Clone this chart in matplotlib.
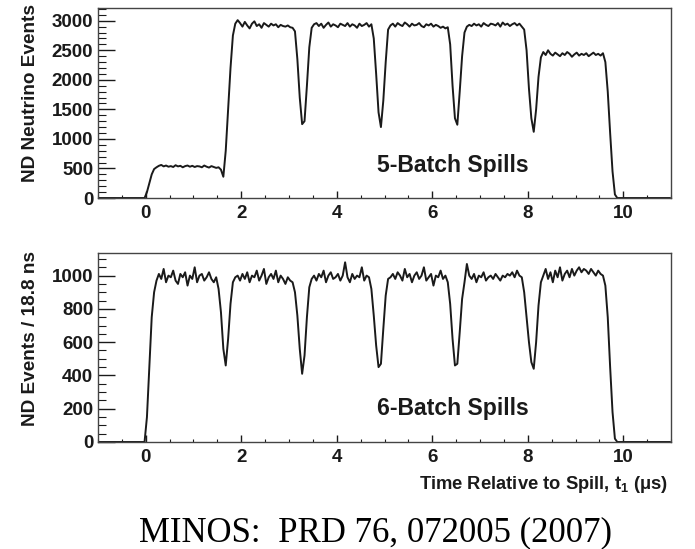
import numpy as np
import matplotlib
matplotlib.use("Agg")
import matplotlib.pyplot as plt
from matplotlib.ticker import MultipleLocator

# histogram contents, bins of 0.05 us starting at t1 = 0
bin_width = 0.05
t_start = 0.0

five_batch = [
    100, 250, 400, 490,
    520, 545, 560, 535, 550, 530, 540, 525, 555, 535, 545, 520, 540, 550,
    530, 545, 525, 540, 535, 520, 550, 530, 515, 540, 525, 510, 520,
    480, 360,
    800, 1500, 2200, 2750, 2950,
    3010, 2960, 2900, 2980, 2920, 2870, 2950, 2990, 2910, 2940, 2880, 2960,
    2930, 2900, 2950, 2920, 2940, 2890, 2930, 2910, 2900, 2920, 2890, 2880,
    2820, 2350, 1700, 1250, 1300, 1900, 2550, 2880,
    2940, 2960, 2910, 2950, 2880, 2930, 2970, 2900, 2940, 2920, 2890, 2950,
    2930, 2910, 2960, 2900, 2940, 2920, 2880, 2950, 2910, 2930, 2960, 2900, 2940,
    2700, 2100, 1450, 1200, 1650, 2300, 2850,
    2920, 2950, 2900, 2960, 2930, 2910, 2970, 2940, 2900, 2950, 2920, 2930,
    2960, 2910, 2890, 2940, 2920, 2950, 2900, 2930, 2910, 2880, 2900, 2870, 2890,
    2600, 1900, 1350, 1240, 1800, 2400, 2800, 2900,
    2930, 2910, 2950, 2920, 2940, 2900, 2960, 2930, 2910, 2950, 2940, 2920,
    2960, 2900, 2970, 2930, 2950, 2910, 2940, 2960, 2920, 2950, 2900,
    2850, 2500, 1850, 1350, 1120, 1500, 2050, 2380,
    2470, 2420, 2500, 2440, 2410, 2460, 2430, 2400, 2450, 2420, 2470, 2440, 2390,
    2430, 2460, 2410, 2440, 2420, 2450, 2400, 2430, 2460, 2420, 2440, 2410, 2450,
    2300, 1800, 1100, 450, 60,
    0, 0, 0,
]

six_batch = [
    150, 450, 750, 900, 970,
    1010, 980, 1040, 960, 1000, 990, 1030, 970, 950, 1010, 990, 1020, 940,
    1000, 980, 1050, 960, 1000, 1010, 970, 990, 1020, 980, 960, 990,
    920, 780, 560, 460, 620, 830, 960,
    990, 1000, 970, 1010, 980, 1020, 960, 1000, 990, 1030, 970, 1000, 1040,
    950, 990, 1010, 980, 1030, 960, 1000, 980, 950, 990, 970, 960,
    900, 760, 560, 410, 520, 750, 930,
    980, 1000, 970, 1010, 990, 1030, 960, 1000, 1020, 980, 990, 1010, 970,
    1000, 1080, 990, 960, 1010, 980, 1000, 990, 1050, 970, 1000, 990,
    920, 760, 580, 450, 470, 680, 880, 980,
    990, 1010, 980, 1020, 1000, 970, 1040, 990, 1010, 960, 1000, 1020, 980,
    1000, 1050, 970, 990, 1010, 940, 1000, 990, 1030, 980, 1000, 960,
    830, 620, 460, 470, 660, 860, 960,
    1070, 1000, 980, 1010, 960, 1000, 990, 1020, 970, 990, 1000, 980,
    1010, 990, 970, 1000, 990, 1010, 1000, 1020, 990, 1030, 1000, 990,
    900, 750, 600, 480, 440, 600, 820, 960,
    1000, 1040, 980, 1020, 960, 1030, 990, 1050, 970, 1010, 1030, 990, 1040,
    1000, 1030, 1050, 1020, 1040, 1030, 1010, 1040, 1020, 1000, 1030, 1010, 1000,
    940, 750, 450, 180, 20,
    0, 0, 0,
]

panels = [
    ("ND Neutrino Events", five_batch, "5-Batch Spills", 3215, 500, 100, 445),
    ("ND Events / 18.8 ns", six_batch, "6-Batch Spills", 1136, 200, 50, 162),
]

ink = "#1a1a1a"
plt.rcParams["font.family"] = ["Liberation Sans", "DejaVu Sans"]
plt.rcParams["font.weight"] = "bold"
plt.rcParams["mathtext.fontset"] = "custom"
plt.rcParams["mathtext.rm"] = "Liberation Sans:bold"
plt.rcParams["mathtext.bf"] = "Liberation Sans:bold"

fig = plt.figure(figsize=(6.95, 5.49), dpi=100)
boxes = [[0.141, 0.6393, 0.8245, 0.3461], [0.141, 0.1949, 0.8245, 0.3443]]
label_y = [1 - 4 / 549, 1 - 251 / 549]

for k, (ylab, vals, tag, ytop, major, minor, tag_y) in enumerate(panels):
    ax = fig.add_axes(boxes[k])
    vals = np.array(vals, dtype=float)
    padded = np.concatenate([np.zeros(20), vals, np.zeros(20)])
    centres = t_start - 1.0 + (np.arange(len(padded)) + 0.5) * bin_width
    ax.plot(centres, padded, color=ink, lw=1.4)

    ax.set_xlim(-1, 11)
    ax.set_ylim(0, ytop)
    ax.xaxis.set_major_locator(MultipleLocator(2))
    ax.xaxis.set_minor_locator(MultipleLocator(0.5))
    ax.yaxis.set_major_locator(MultipleLocator(major))
    ax.yaxis.set_minor_locator(MultipleLocator(minor))
    ax.tick_params(axis="y", which="major", direction="in", length=12, width=1,
                   color=ink, pad=3.5, labelsize=13.5)
    ax.tick_params(axis="y", which="minor", direction="in", length=6, width=0.8,
                   color=ink)
    ax.tick_params(axis="x", which="major", direction="in", length=5, width=1,
                   color=ink, pad=5, labelsize=13.5)
    ax.tick_params(axis="x", which="minor", direction="in", length=2.5, width=0.8,
                   color=ink)
    for lab in ax.get_xticklabels() + ax.get_yticklabels():
        lab.set_fontweight("bold")
        lab.set_color(ink)
    for sp in ax.spines.values():
        sp.set_color("#444444")
        sp.set_linewidth(1.0)

    ax.text(4.85, tag_y, tag, fontsize=16.6, fontweight="bold", color=ink)
    fig.text(31 / 695, label_y[k], ylab, rotation=90, ha="center", va="top",
             fontsize=13.7, fontweight="bold", color=ink)

fig.text(668 / 695, 1 - 489 / 549, "Time Relative to Spill, t$_1$ (\u03bcs)",
         ha="right", va="baseline", fontsize=13.2, fontweight="bold", color=ink)
fig.text(375.5 / 695, 1 - 541 / 549, "MINOS:  PRD 76, 072005 (2007)",
         ha="center", va="baseline", fontsize=25, fontweight="normal",
         family="Liberation Serif", color="black")

fig.savefig("out.png", dpi=100)
